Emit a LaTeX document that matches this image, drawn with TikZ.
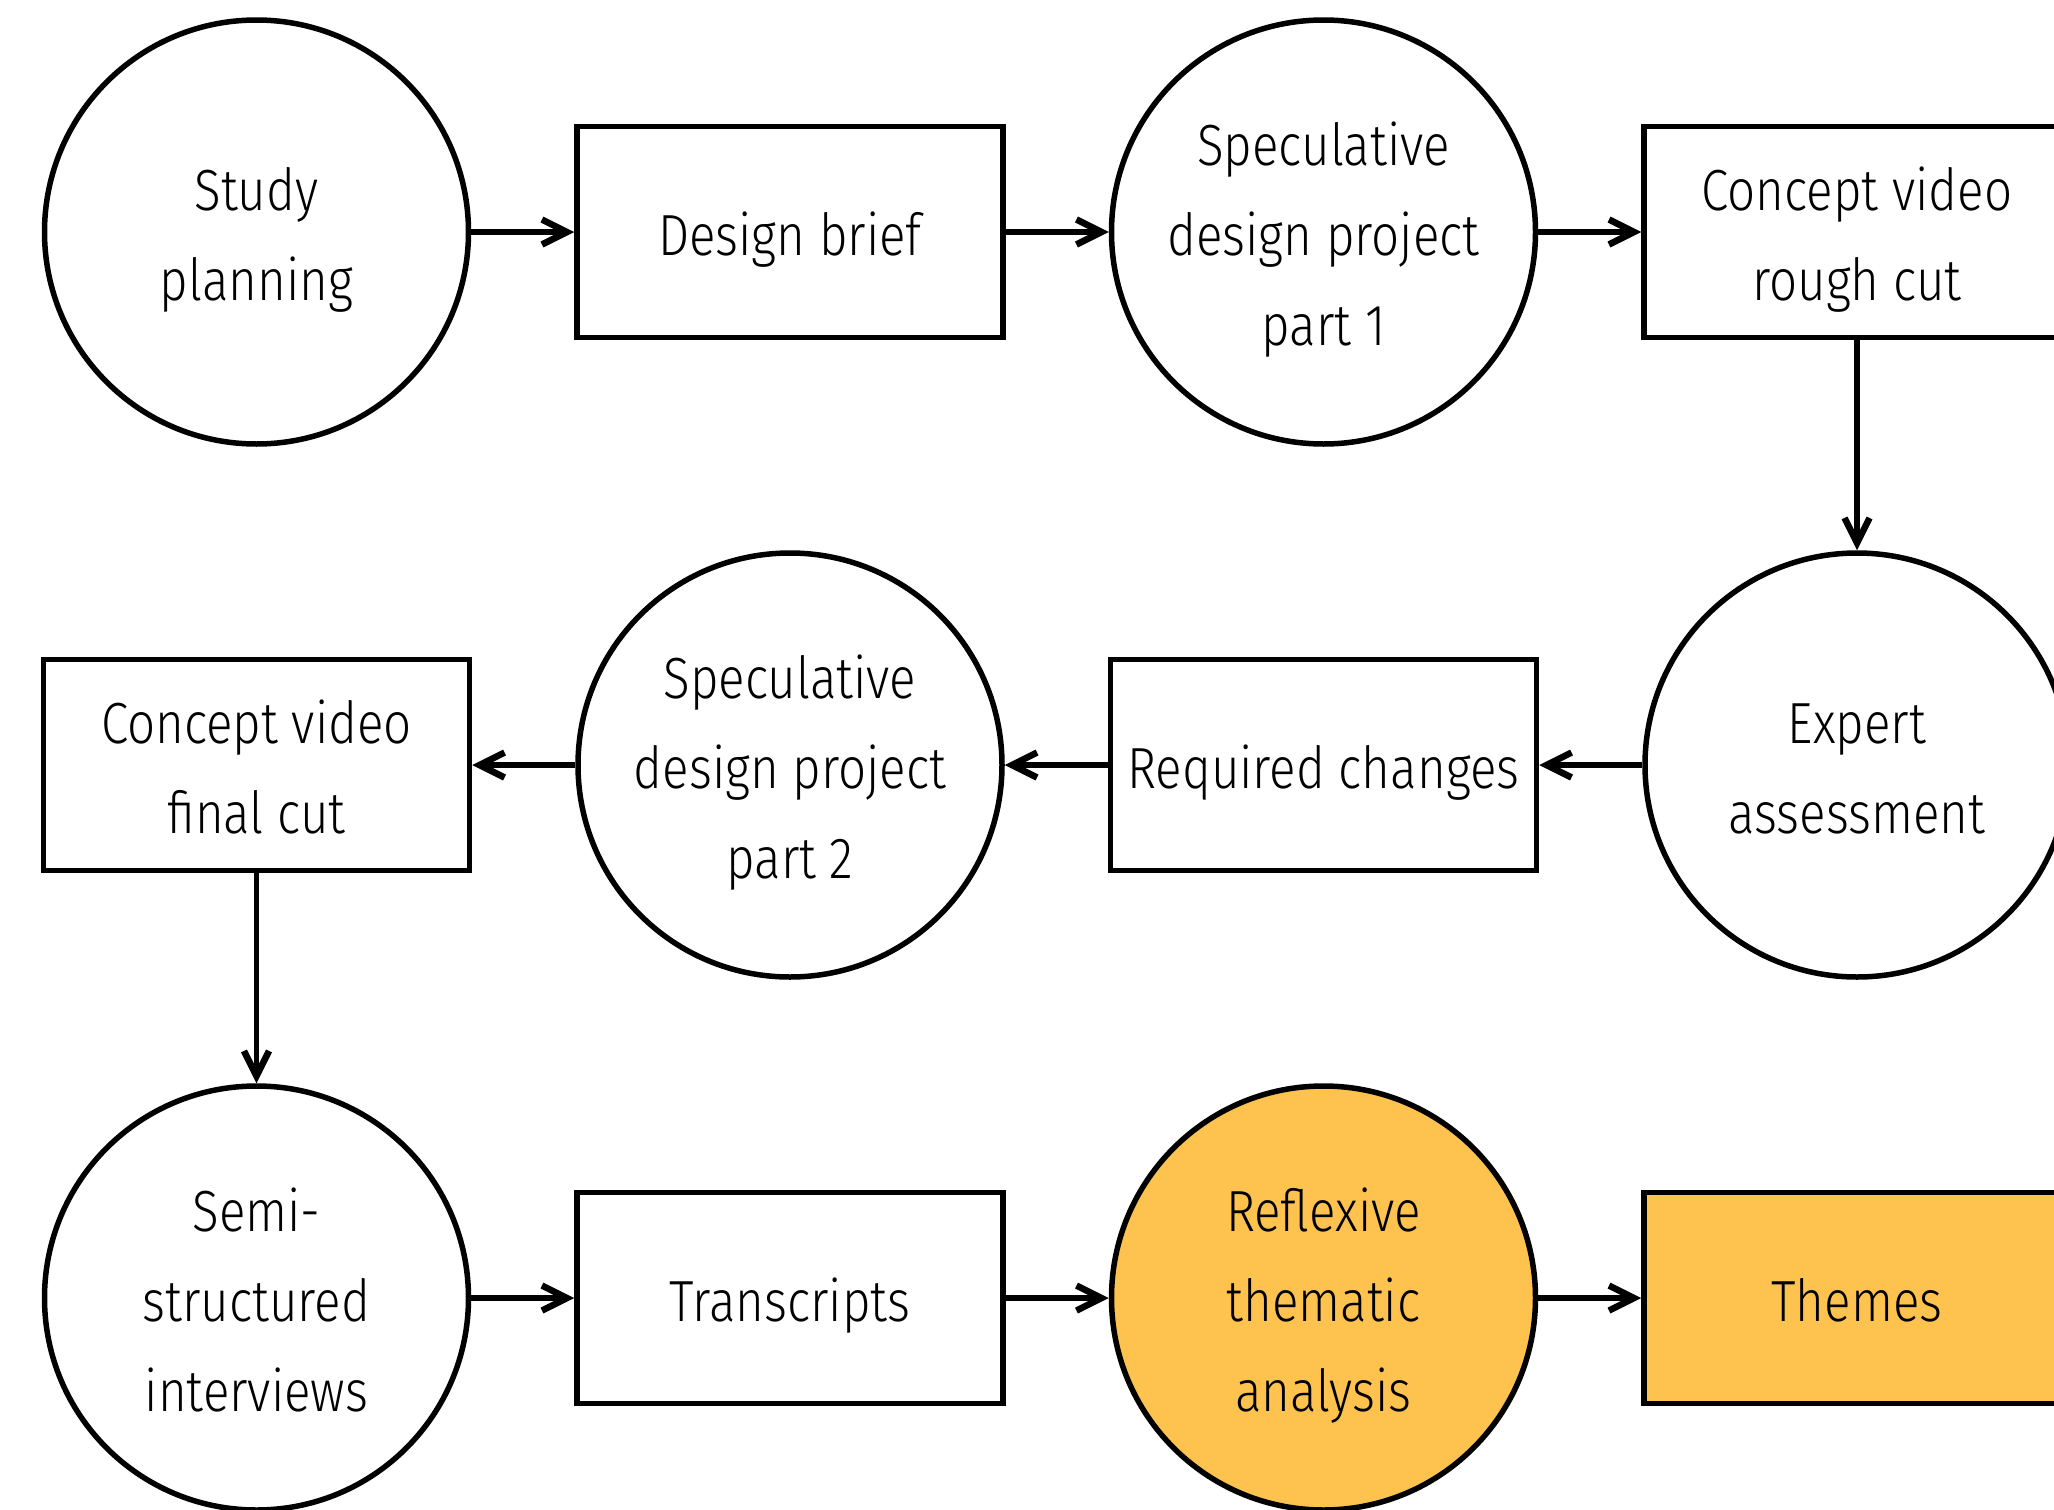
\documentclass[tikz,border=0pt]{standalone}
\usepackage{fontspec}
\setmainfont{Fira Sans Light}[FakeStretch=0.85]
\usetikzlibrary{arrows.meta}
\definecolor{themeorange}{RGB}{254,194,79}
\newcommand\topstrut{\rule{0pt}{61pt}}
\begin{document}
\begin{tikzpicture}[x=1pt,y=-1pt,
  lbl/.style={align=center, font=\fontsize{58}{90}\selectfont, text=black,
    execute at end node={\rule[-14pt]{0pt}{14pt}}},
  proc/.style={lbl, circle, draw=black, line width=5.5pt, minimum size=424pt, inner sep=0pt},
  doc/.style={lbl, rectangle, draw=black, line width=5.5pt, minimum width=426pt, minimum height=211pt, inner sep=0pt},
  hl/.style={fill=themeorange},
  flow/.style={line width=5.5pt, -{Straight Barb[length=25pt,width=25pt,line width=6.5pt,sharp]}}
]
\useasboundingbox (0,0) rectangle (2054,1510);
\fill[white] (0,0) rectangle (2054,1510);
\node[proc] (sp)  at (256.5,232) {\topstrut Study\\planning};
\node[doc]  (db)  at (790,232)   {\topstrut Design brief};
\node[proc] (sd1) at (1323.5,232) {\topstrut Speculative\\design project\\part 1};
\node[doc]  (rc)  at (1857,232)  {\topstrut Concept video\\rough cut};
\node[proc] (ea)  at (1857,765)  {\topstrut Expert\\assessment};
\node[doc]  (chg) at (1323.5,765) {\topstrut Required changes};
\node[proc] (sd2) at (790,765)   {\topstrut Speculative\\design project\\part 2};
\node[doc]  (fc)  at (256.5,765) {\topstrut Concept video\\final cut};
\node[proc] (ssi) at (256.5,1298) {\topstrut Semi-\\structured\\interviews};
\node[doc]  (tr)  at (790,1298)  {\topstrut Transcripts};
\node[proc,hl] (rta) at (1323.5,1298) {\topstrut Reflexive\\thematic\\analysis};
\node[doc,hl]  (th)  at (1857,1298) {\topstrut Themes};
\draw[flow] (sp) -- (db);
\draw[flow] (db) -- (sd1);
\draw[flow] (sd1) -- (rc);
\draw[flow] (rc) -- (ea);
\draw[flow] (ea) -- (chg);
\draw[flow] (chg) -- (sd2);
\draw[flow] (sd2) -- (fc);
\draw[flow] (fc) -- (ssi);
\draw[flow] (ssi) -- (tr);
\draw[flow] (tr) -- (rta);
\draw[flow] (rta) -- (th);
\end{tikzpicture}
\end{document}
